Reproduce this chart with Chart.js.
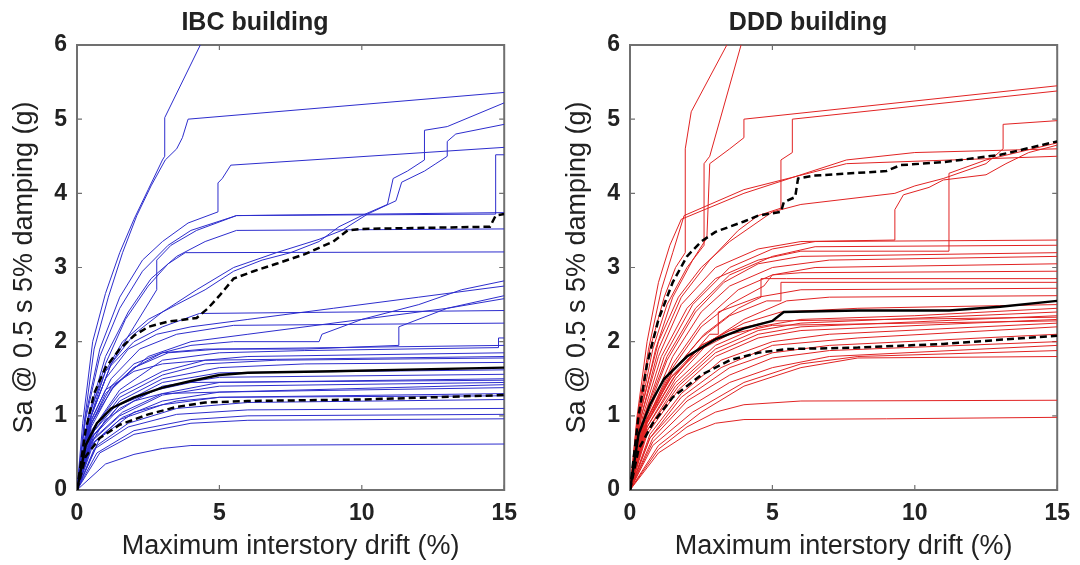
<!DOCTYPE html>
<html>
<head>
<meta charset="utf-8">
<script src="https://cdn.jsdelivr.net/npm/chart.js@4.4.1/dist/chart.umd.min.js"></script>
<style>
  body { margin: 0; background: #fff; overflow: hidden; }
  .panel { position: absolute; top: 0; width: 527px; height: 565px; }
</style>
</head>
<body>
<div class="panel" style="left:0"><canvas id="ibcChart"></canvas></div>
<div class="panel" style="left:553px"><canvas id="dddChart"></canvas></div>
<script>
/* ---------- data (drift %, Sa g) ---------- */
const xTicks = [0, 5, 10, 15];
const yTicks = [0, 1, 2, 3, 4, 5, 6];

// IBC building: individual IDA curves
const ibcCurves = [
  [[0,0],[0.2,0.9],[0.55,2.0],[1.0,2.65],[1.5,3.2],[2.0,3.65],[2.5,4.05],[3.0,4.45],[3.08,4.5],[3.08,5.02],[4.33,6.0]],
  [[0,0],[0.25,0.9],[0.6,1.9],[1.1,2.6],[1.6,3.2],[2.1,3.7],[2.6,4.1],[3.1,4.45],[3.5,4.6],[3.7,4.75],[3.9,5.0],[15,5.36]],
  [[0,0],[0.4,0.9],[1,1.6],[1.6,2.0],[2.5,2.3],[3.5,2.5],[4.5,2.7],[5.5,2.95],[6.5,3.1],[7.5,3.2],[8.5,3.35],[9.2,3.55],[10,3.7],[10.9,3.85],[11.1,4.2],[11.6,4.3],[12.2,4.45],[12.2,4.85],[13,4.9],[15,5.22]],
  [[0,0],[0.5,1.0],[1.2,1.7],[2,2.1],[3,2.4],[4.2,2.7],[5.5,3.0],[7,3.2],[8.5,3.38],[9.3,3.5],[10.2,3.72],[11.2,3.9],[11.4,4.15],[12.2,4.3],[12.6,4.4],[13.0,4.5],[13.0,4.7],[13.3,4.8],[15,4.93]],
  [[0,0],[0.3,1.0],[0.8,1.9],[1.5,2.6],[2.3,3.1],[3.0,3.35],[3.9,3.6],[4.95,3.75],[4.95,4.14],[5.1,4.2],[5.4,4.38],[15,4.62]],
  [[0,0],[0.3,0.95],[0.8,1.8],[1.5,2.45],[2.3,2.95],[3.2,3.3],[4.0,3.5],[5.6,3.7],[14.7,3.72],[14.7,4.52],[15,4.52]],
  [[0,0],[0.4,1.0],[1,1.8],[1.8,2.4],[2.6,2.85],[3.5,3.15],[4.5,3.35],[5.6,3.5],[15,3.52]],
  [[0,0],[0.4,0.95],[1,1.7],[1.7,2.3],[2.5,2.75],[3.2,3.05],[3.8,3.2],[15,3.21]],
  [[0,0],[0.5,1.0],[1.2,1.7],[2,2.2],[2.8,2.7],[2.8,3.1],[3.3,3.3],[4.2,3.5],[5.6,3.7],[15,3.74]],
  [[0,0],[0.5,0.85],[1.2,1.35],[2,1.65],[3,1.85],[4,1.95],[5.5,2.0],[8.5,2.0],[8.6,2.1],[10,2.3],[12,2.5],[13.5,2.7],[15,2.82]],
  [[0,0],[0.5,0.9],[1.2,1.4],[2,1.7],[3,1.85],[4.5,1.9],[8,1.9],[11.3,1.95],[11.3,2.2],[13,2.45],[15,2.62]],
  [[0,0],[0.4,0.9],[1,1.5],[1.8,1.9],[2.8,2.1],[4,2.2],[6,2.3],[9,2.45],[12,2.6],[15,2.75]],
  [[0,0],[0.4,1.0],[1,1.6],[2,2.0],[3,2.2],[4.3,2.38],[15,2.42]],
  [[0,0],[0.5,0.95],[1.2,1.5],[2.2,1.9],[3.5,2.1],[5.5,2.22],[15,2.25]],
  [[0,0],[0.5,0.9],[1.3,1.4],[2.5,1.8],[4,2.0],[6,2.1],[10,2.3],[13,2.45],[15,2.58]],
  [[0,0],[0.6,0.85],[1.5,1.35],[3,1.75],[5,1.85],[8,1.88],[14.8,1.92],[14.8,2.05],[15,2.05]],
  [[0,0],[0.5,0.8],[1.5,1.3],[3,1.6],[4.5,1.75],[6,1.8],[15,1.85]],
  [[0,0],[0.6,0.8],[1.5,1.25],[3,1.55],[4.5,1.7],[7,1.75],[15,1.78]],
  [[0,0],[0.5,0.75],[1.5,1.2],[3,1.5],[5,1.65],[8,1.7],[15,1.72]],
  [[0,0],[0.6,0.75],[1.5,1.15],[3,1.45],[5,1.58],[15,1.62]],
  [[0,0],[0.5,0.7],[1.5,1.1],[3,1.4],[5,1.52],[15,1.56]],
  [[0,0],[0.6,0.7],[1.6,1.05],[3,1.3],[5,1.45],[15,1.5]],
  [[0,0],[0.5,0.65],[1.5,1.0],[3,1.28],[5,1.4],[15,1.45]],
  [[0,0],[0.6,0.65],[1.6,0.98],[3,1.2],[5,1.32],[15,1.38]],
  [[0,0],[0.5,0.6],[1.5,0.95],[3,1.15],[5,1.25],[15,1.3]],
  [[0,0],[0.7,0.6],[1.8,0.9],[3.5,1.1],[6,1.18],[15,1.22]],
  [[0,0],[0.6,0.55],[1.8,0.85],[3.5,1.02],[6,1.08],[15,1.1]],
  [[0,0],[0.7,0.5],[2,0.8],[4,0.95],[6,1.0],[15,1.02]],
  [[0,0],[0.8,0.5],[2,0.75],[4,0.9],[6,0.94],[15,0.96]],
  [[0,0],[1,0.35],[2,0.48],[3,0.56],[4,0.6],[15,0.62]],
  [[0,0],[0.4,0.8],[1,1.3],[2,1.65],[3.2,1.85],[5,1.9],[15,1.95]],
  [[0,0],[0.4,0.85],[1,1.35],[2,1.6],[3,1.7],[4.5,1.75],[15,1.8]],
  [[0,0],[0.5,0.7],[1.5,1.15],[2.8,1.35],[4,1.45],[15,1.48]],
  [[0,0],[0.8,0.7],[2,1.05],[3.5,1.2],[5,1.25],[15,1.27]],
  [[0,0],[0.3,0.5],[1,0.95],[2,1.2],[3,1.3],[15,1.42]]
];
// IBC fractiles (16%, 50%, 84%)
const ibc16 = [[0,0],[0.3,0.45],[0.8,0.7],[1.5,0.88],[2.5,1.02],[3.5,1.12],[4.5,1.18],[6,1.2],[10,1.22],[15,1.28]];
const ibc50 = [[0,0],[0.3,0.6],[0.7,0.9],[1.2,1.1],[2,1.25],[3,1.38],[4,1.47],[5,1.55],[6,1.58],[9,1.6],[15,1.65]];
const ibc84 = [[0,0],[0.3,0.8],[0.6,1.3],[1,1.65],[1.5,1.9],[2,2.08],[2.5,2.2],[3.2,2.27],[4.2,2.32],[4.6,2.45],[5,2.62],[5.5,2.85],[6.2,2.95],[7,3.05],[8,3.18],[9,3.35],[9.5,3.5],[10,3.52],[14.5,3.55],[14.7,3.7],[15,3.72]];

// DDD building: individual IDA curves
const dddCurves = [
  [[0,0],[0.3,1.0],[0.7,1.9],[1.2,2.6],[1.6,3.0],[1.94,3.2],[1.94,4.6],[2.15,5.1],[3.4,6.0]],
  [[0,0],[0.3,0.95],[0.8,1.9],[1.3,2.5],[2.0,3.0],[2.6,3.3],[2.6,4.4],[2.8,4.5],[3.9,6.0]],
  [[0,0],[0.35,1.0],[0.9,1.9],[1.5,2.6],[2.2,3.1],[2.7,3.4],[2.8,4.4],[3.5,4.6],[4.0,4.75],[4.0,5.0],[15,5.45]],
  [[0,0],[0.4,1.0],[1,1.9],[1.8,2.6],[2.8,3.1],[3.8,3.5],[4.5,3.7],[5.3,3.8],[5.3,4.45],[5.7,4.55],[5.7,5.0],[15,5.38]],
  [[0,0],[0.25,1.0],[0.6,2.0],[1.0,2.8],[1.4,3.3],[1.8,3.65],[4,4.0],[7.6,4.45],[10,4.55],[15,4.6]],
  [[0,0],[0.25,0.95],[0.65,1.9],[1.1,2.7],[1.5,3.2],[1.9,3.7],[4,4.05],[7.6,4.4],[15,4.5]],
  [[0,0],[0.4,1.1],[1,2.0],[1.7,2.6],[2.5,3.0],[3.5,3.35],[5,3.75],[6,3.85],[9.3,4.0],[10,4.1],[11,4.2],[12.5,4.4],[13.1,4.6],[13.1,4.93],[15,4.98]],
  [[0,0],[0.4,1.0],[1,1.8],[1.8,2.5],[3,3.0],[4.5,3.25],[6,3.35],[9.3,3.37],[9.3,3.78],[9.6,3.98],[10.5,4.08],[11,4.18],[12.5,4.25],[13.2,4.4],[14,4.55],[15,4.65]],
  [[0,0],[0.45,1.0],[1.1,1.8],[2,2.45],[3,2.85],[4.5,3.1],[6,3.22],[11.2,3.22],[11.2,4.27],[12.5,4.45],[15,4.68]],
  [[0,0],[0.5,1.0],[1.2,1.8],[2.2,2.5],[3.5,3.0],[5,3.25],[6.5,3.35],[15,3.37]],
  [[0,0],[0.5,1.0],[1.3,1.8],[2.3,2.45],[3.5,2.9],[5,3.15],[6.5,3.28],[15,3.3]],
  [[0,0],[0.5,0.95],[1.3,1.75],[2.3,2.4],[3.3,2.8],[4.5,3.05],[6,3.15],[15,3.2]],
  [[0,0],[0.6,1.0],[1.5,1.8],[2.5,2.4],[3.5,2.75],[5,3.0],[7,3.1],[15,3.15]],
  [[0,0],[0.6,0.95],[1.5,1.7],[2.5,2.25],[3.8,2.7],[5,2.9],[6.5,3.0],[15,3.05]],
  [[0,0],[0.6,0.95],[1.5,1.65],[2.5,2.2],[3.5,2.5],[4.7,2.75],[5,2.9],[6,2.93],[15,2.95]],
  [[0,0],[0.6,0.9],[1.5,1.6],[2.6,2.1],[3.8,2.45],[4.6,2.6],[4.6,2.85],[5.5,2.85],[15,2.85]],
  [[0,0],[0.5,0.9],[1.5,1.6],[2.5,2.05],[3.5,2.35],[4.8,2.55],[5.3,2.55],[5.3,2.8],[15,2.8]],
  [[0,0],[0.6,0.9],[1.6,1.55],[2.8,2.1],[3.1,2.1],[3.1,2.4],[4.5,2.6],[6,2.7],[15,2.72]],
  [[0,0],[0.6,0.85],[1.6,1.5],[2.8,2.0],[4,2.3],[5.5,2.55],[7,2.6],[15,2.62]],
  [[0,0],[0.5,0.85],[1.5,1.5],[2.5,1.95],[4,2.25],[5.3,2.4],[8,2.45],[15,2.5]],
  [[0,0],[0.6,0.85],[1.6,1.45],[3,1.95],[4.5,2.2],[6,2.3],[10,2.35],[15,2.45]],
  [[0,0],[0.6,0.8],[1.6,1.4],[3,1.9],[4.5,2.15],[6,2.25],[15,2.4]],
  [[0,0],[0.6,0.8],[1.7,1.4],[3,1.85],[4.5,2.1],[6,2.2],[15,2.35]],
  [[0,0],[0.6,0.75],[1.7,1.35],[3,1.8],[4.5,2.05],[6,2.15],[15,2.3]],
  [[0,0],[0.7,0.75],[1.8,1.3],[3.2,1.75],[5,2.0],[7,2.1],[15,2.25]],
  [[0,0],[0.7,0.7],[1.8,1.25],[3.2,1.65],[5,1.95],[8,2.05],[15,2.2]],
  [[0,0],[0.7,0.7],[2,1.25],[3.5,1.65],[5,1.85],[7,1.95],[15,2.1]],
  [[0,0],[0.8,0.7],[2,1.2],[3.5,1.55],[5,1.78],[7,1.88],[15,2.0]],
  [[0,0],[0.8,0.65],[2,1.1],[3.5,1.45],[5,1.65],[7,1.8],[15,1.95]],
  [[0,0],[0.8,0.6],[2.2,1.05],[4,1.45],[6,1.7],[8,1.8],[15,1.88]],
  [[0,0],[1,0.6],[2.5,1.05],[4,1.4],[6,1.65],[8,1.78],[15,1.8]],
  [[0,0],[1,0.55],[2,0.85],[3,1.05],[4,1.15],[6,1.2],[15,1.21]],
  [[0,0],[1,0.5],[2,0.75],[3,0.9],[4,0.95],[9,0.96],[15,0.98]],
  [[0,0],[0.5,0.9],[1.5,1.55],[2.5,1.95],[3.5,2.15],[5,2.28],[15,2.33]],
  [[0,0],[0.5,0.85],[1.4,1.5],[2.5,1.9],[3.5,2.1],[5,2.22],[15,2.28]]
];
// DDD fractiles (16%, 50%, 84%)
const ddd16 = [[0,0],[0.3,0.55],[0.8,0.9],[1.5,1.25],[2.5,1.55],[3.5,1.75],[4.5,1.85],[5.5,1.9],[8,1.92],[11,1.97],[15,2.08]];
const ddd50 = [[0,0],[0.3,0.75],[0.7,1.15],[1.2,1.5],[2,1.8],[3,2.03],[4,2.18],[5,2.28],[5.4,2.4],[8,2.42],[11.2,2.42],[13,2.47],[15,2.55]];
const ddd84 = [[0,0],[0.3,1.0],[0.6,1.7],[1,2.3],[1.5,2.8],[2,3.15],[2.5,3.35],[3,3.48],[3.5,3.55],[4,3.62],[4.5,3.7],[5.3,3.75],[5.4,3.88],[5.8,3.95],[5.9,4.2],[6.5,4.24],[9,4.3],[9.5,4.38],[11,4.42],[13,4.52],[15,4.7]];

/* ---------- helpers ---------- */
const toXY = pts => pts.map(p => ({ x: p[0], y: p[1] }));
const FONT = "Liberation Sans, Arial, sans-serif";

// matlab style box + inward ticks
const boxPlugin = {
  id: "box",
  beforeDatasetsDraw(chart) {
    const { ctx, chartArea: a, scales: { x, y } } = chart;
    ctx.save();
    ctx.strokeStyle = "#707070";
    ctx.lineWidth = 2;
    ctx.strokeRect(a.left, a.top, a.right - a.left, a.bottom - a.top);
    ctx.lineWidth = 1.2;
    ctx.beginPath();
    xTicks.forEach(v => {
      const px = x.getPixelForValue(v);
      ctx.moveTo(px, a.bottom); ctx.lineTo(px, a.bottom - 5);
      ctx.moveTo(px, a.top); ctx.lineTo(px, a.top + 5);
    });
    yTicks.forEach(v => {
      const py = y.getPixelForValue(v);
      ctx.moveTo(a.left, py); ctx.lineTo(a.left + 5, py);
      ctx.moveTo(a.right, py); ctx.lineTo(a.right - 5, py);
    });
    ctx.stroke();
    ctx.restore();
  }
};

function makeChart(id, title, curves, color, f16, f50, f84) {
  const datasets = [
    { data: toXY(f84), borderColor: "#000", borderWidth: 2.5, borderDash: [7, 4] },
    { data: toXY(f50), borderColor: "#000", borderWidth: 2.5 },
    { data: toXY(f16), borderColor: "#000", borderWidth: 2.5, borderDash: [7, 4] }
  ];
  curves.forEach(c => datasets.push({ data: toXY(c), borderColor: color, borderWidth: 1 }));

  return new Chart(document.getElementById(id), {
    type: "scatter",
    data: { datasets },
    options: {
      responsive: true,
      maintainAspectRatio: false,
      animation: false,
      showLine: true,
      elements: { point: { radius: 0 }, line: { tension: 0, fill: false } },
      layout: { padding: { left: 0, right: 17, top: 0, bottom: 0 } },
      plugins: {
        legend: { display: false },
        tooltip: { enabled: false },
        title: {
          display: true,
          text: title,
          color: "#222",
          font: { family: FONT, size: 25, weight: "bold" },
          padding: { top: 8, bottom: 7 }
        }
      },
      scales: {
        x: {
          type: "linear", min: 0, max: 15,
          grid: { display: false, drawTicks: false },
          border: { display: false },
          ticks: {
            stepSize: 5, padding: 10, color: "#222",
            font: { family: FONT, size: 23, weight: "bold" }
          },
          title: {
            display: true,
            text: "Maximum interstory drift (%)",
            color: "#222",
            font: { family: FONT, size: 27 },
            padding: { top: 0, bottom: 2 }
          },
          afterFit: s => { s.height = 75; }
        },
        y: {
          type: "linear", min: 0, max: 6,
          grid: { display: false, drawTicks: false },
          border: { display: false },
          ticks: {
            stepSize: 1, padding: 10, color: "#222",
            font: { family: FONT, size: 23, weight: "bold" }
          },
          title: {
            display: true,
            text: "Sa @ 0.5 s 5% damping (g)",
            color: "#222",
            font: { family: FONT, size: 27 },
            padding: { top: 8, bottom: 0 }
          },
          afterFit: s => { s.width = 77; }
        }
      }
    },
    plugins: [boxPlugin]
  });
}

makeChart("ibcChart", "IBC building", ibcCurves, "rgb(45,45,205)", ibc16, ibc50, ibc84);
makeChart("dddChart", "DDD building", dddCurves, "rgb(225,35,35)", ddd16, ddd50, ddd84);
</script>
</body>
</html>
